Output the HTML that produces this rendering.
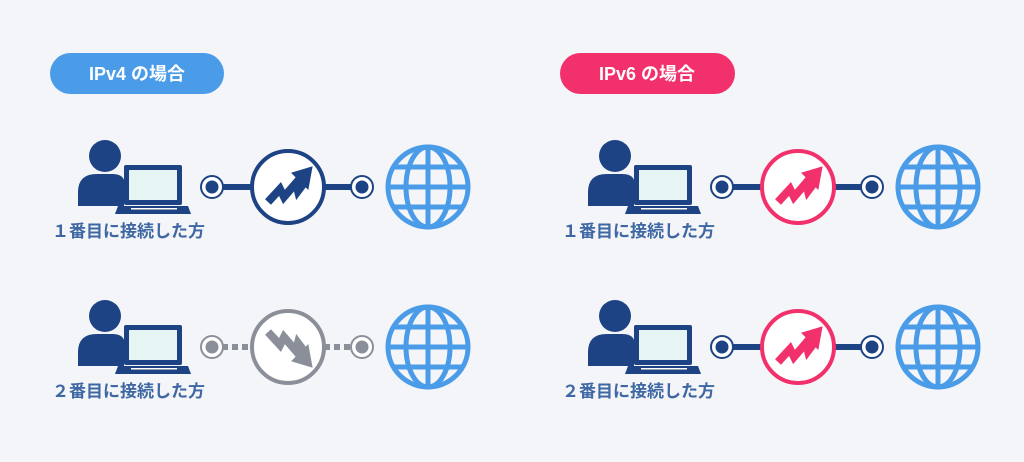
<!DOCTYPE html>
<html><head><meta charset="utf-8"><style>
html,body{margin:0;padding:0;background:#f3f5f8;}
svg{display:block}
text{font-family:"Liberation Sans","Noto Sans CJK JP",sans-serif;font-weight:bold}
</style></head><body>
<svg width="1024" height="462" viewBox="0 0 1024 462" xmlns="http://www.w3.org/2000/svg">
<defs>
<g id="person">
<circle cx="105" cy="156" r="16" fill="#1d4384"/>
<path d="M78 206 L78 192 Q78 174 97 174 L112 174 Q122 174 124 180 L124 206 Z" fill="#1d4384"/>
<rect x="124" y="165" width="58" height="40" rx="2" fill="#1d4384"/>
<rect x="129" y="170" width="48" height="30" fill="#e6f4f4"/>
<path d="M118 206 L188 206 L191 214 L115 214 Z" fill="#1d4384"/>
<rect x="131" y="208" width="46" height="1.5" fill="#fff"/>
</g>
<g id="globe" fill="none" stroke="#4a9be8" stroke-width="5">
<circle cx="0" cy="0" r="40"/>
<ellipse cx="0" cy="0" rx="22" ry="40"/>
<line x1="0" y1="-40" x2="0" y2="40"/>
<line x1="-40" y1="0" x2="40" y2="0"/>
<line x1="-34" y1="-20" x2="34" y2="-20"/>
<line x1="-34" y1="20" x2="34" y2="20"/>
</g>
<g id="arrowup">
<polyline points="-20,15 -8,2 -4,10 8,-4 10,4 16,-4" fill="none" stroke-width="8" stroke-linejoin="miter"/>
<polygon points="24,-20 4,-14 20,2"/>
</g>
</defs>

<rect x="50" y="53" width="174" height="41" rx="20.5" fill="#4a9be8"/>
<text x="137" y="80" font-size="18" fill="#fff" text-anchor="middle">IPv4 の場合</text>

<rect x="560" y="53" width="175" height="41" rx="20.5" fill="#f2306b"/>
<text x="647" y="80" font-size="18" fill="#fff" text-anchor="middle">IPv6 の場合</text>

<use href="#person"/>
<text x="52" y="237" font-size="17" fill="#3e67a3">１番目に接続した方</text>
<line x1="212" y1="187" x2="362" y2="187" stroke="#1d4384" stroke-width="6"/>
<circle cx="212" cy="187" r="11" fill="#fff" stroke="#1d4384" stroke-width="2"/>
<circle cx="212" cy="187" r="6.5" fill="#1d4384"/>
<circle cx="362" cy="187" r="11" fill="#fff" stroke="#1d4384" stroke-width="2"/>
<circle cx="362" cy="187" r="6.5" fill="#1d4384"/>
<circle cx="288" cy="187" r="36" fill="#fff" stroke="#1d4384" stroke-width="4"/>
<g transform="translate(288,187)" fill="#1d4384" stroke="#1d4384"><use href="#arrowup"/></g>
<use href="#globe" transform="translate(428,187)"/>

<use href="#person" transform="translate(0,160)"/>
<text x="52" y="397" font-size="17" fill="#3e67a3">２番目に接続した方</text>
<line x1="222" y1="347" x2="252" y2="347" stroke="#8a8f99" stroke-width="6" stroke-dasharray="6,4"/>
<line x1="324" y1="347" x2="352" y2="347" stroke="#8a8f99" stroke-width="6" stroke-dasharray="6,4"/>
<circle cx="212" cy="347" r="11" fill="#fff" stroke="#8a8f99" stroke-width="2"/>
<circle cx="212" cy="347" r="6.5" fill="#8a8f99"/>
<circle cx="362" cy="347" r="11" fill="#fff" stroke="#8a8f99" stroke-width="2"/>
<circle cx="362" cy="347" r="6.5" fill="#8a8f99"/>
<circle cx="288" cy="347" r="36" fill="#fff" stroke="#8a8f99" stroke-width="4"/>
<g transform="translate(288,347) scale(1,-1)" fill="#8a8f99" stroke="#8a8f99"><use href="#arrowup"/></g>
<use href="#globe" transform="translate(428,347)"/>

<g transform="translate(510,0)">
<use href="#person"/>
<line x1="212" y1="187" x2="362" y2="187" stroke="#1d4384" stroke-width="6"/>
<circle cx="212" cy="187" r="11" fill="#fff" stroke="#1d4384" stroke-width="2"/>
<circle cx="212" cy="187" r="6.5" fill="#1d4384"/>
<circle cx="362" cy="187" r="11" fill="#fff" stroke="#1d4384" stroke-width="2"/>
<circle cx="362" cy="187" r="6.5" fill="#1d4384"/>
<circle cx="288" cy="187" r="36" fill="#fff" stroke="#f2306b" stroke-width="4"/>
<g transform="translate(288,187)" fill="#f2306b" stroke="#f2306b"><use href="#arrowup"/></g>
<use href="#globe" transform="translate(428,187)"/>
</g>
<text x="562" y="237" font-size="17" fill="#3e67a3">１番目に接続した方</text>

<g transform="translate(510,160)">
<use href="#person"/>
<line x1="212" y1="187" x2="362" y2="187" stroke="#1d4384" stroke-width="6"/>
<circle cx="212" cy="187" r="11" fill="#fff" stroke="#1d4384" stroke-width="2"/>
<circle cx="212" cy="187" r="6.5" fill="#1d4384"/>
<circle cx="362" cy="187" r="11" fill="#fff" stroke="#1d4384" stroke-width="2"/>
<circle cx="362" cy="187" r="6.5" fill="#1d4384"/>
<circle cx="288" cy="187" r="36" fill="#fff" stroke="#f2306b" stroke-width="4"/>
<g transform="translate(288,187)" fill="#f2306b" stroke="#f2306b"><use href="#arrowup"/></g>
<use href="#globe" transform="translate(428,187)"/>
</g>
<text x="562" y="397" font-size="17" fill="#3e67a3">２番目に接続した方</text>
</svg>
</body></html>
